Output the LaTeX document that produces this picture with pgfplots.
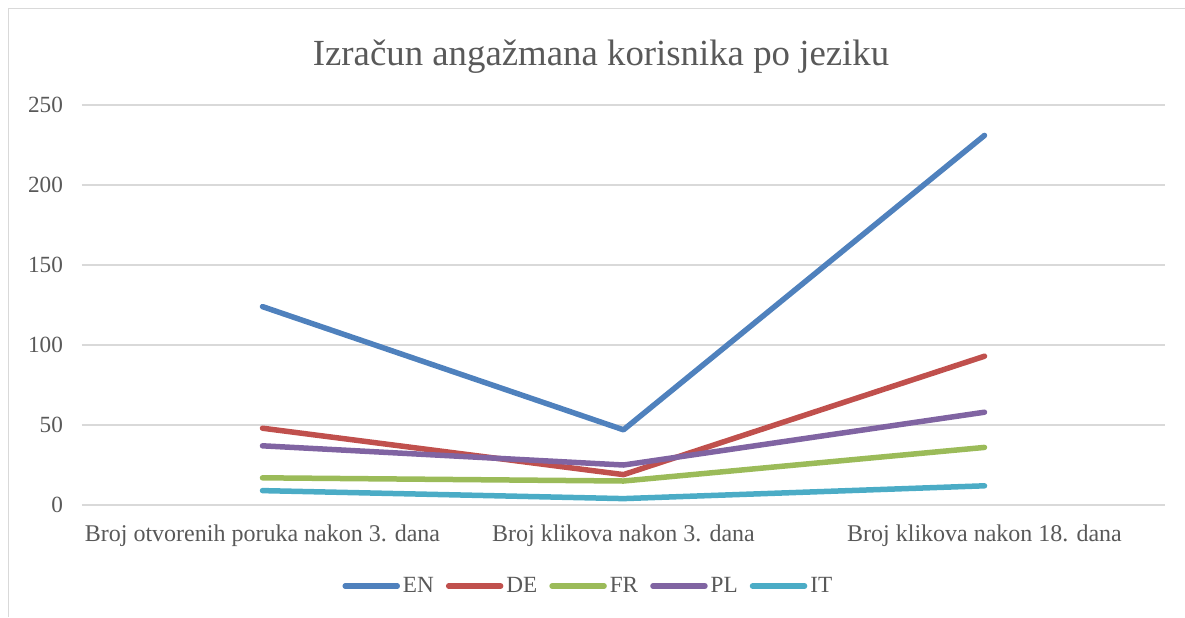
\documentclass[border=0pt]{standalone}
\usepackage{pgfplots}
\pgfplotsset{compat=1.18}
\usepackage{fontspec}
\setmainfont{Liberation Serif}
\definecolor{cEN}{HTML}{4F81BD}
\definecolor{cDE}{HTML}{C0504D}
\definecolor{cFR}{HTML}{9BBB59}
\definecolor{cPL}{HTML}{8064A2}
\definecolor{cIT}{HTML}{4BACC6}
\definecolor{txt}{HTML}{595959}
\definecolor{gridc}{HTML}{D9D9D9}
\begin{document}
\begin{tikzpicture}
\useasboundingbox (0,0) rectangle (592.5pt,-308.5pt);
\draw[gridc, line width=0.75pt] (4.25pt,-308.5pt) -- (4.25pt,-4.25pt) -- (592.5pt,-4.25pt);
\node[text=txt, font=\fontsize{18.4}{21}\selectfont, anchor=base] at (300.5pt,-32.5pt) {Izračun angažmana korisnika po jeziku};
\begin{axis}[
  at={(41pt,-252.5pt)}, anchor=south west,
  scale only axis, width=541.5pt, height=200pt,
  xmin=-0.5, xmax=2.5, ymin=0, ymax=250,
  xtick={0,1,2},
  xticklabels={Broj otvorenih poruka nakon 3. dana, Broj klikova nakon 3. dana, Broj klikova nakon 18. dana},
  ytick={0,50,100,150,200,250},
  ymajorgrids, grid style={gridc, line width=0.75pt},
  axis line style={draw=none},
  major tick length=0pt,
  tick label style={font=\fontsize{11.6}{13}\selectfont, text=txt},
  xticklabel style={font=\fontsize{12}{14}\selectfont, yshift=-6.5pt},
  /pgf/number format/assume math mode=true,
  yticklabel style={xshift=-6pt},
  legend style={at={(axis description cs:0.468,0)}, anchor=center, yshift=-40.5pt,
    draw=none, font=\fontsize{11.6}{13}\selectfont, text=txt,
    /tikz/every even column/.append style={column sep=4.5pt},
    nodes={inner sep=1.5pt}},
  legend columns=5,
  legend image code/.code={\draw[#1, line cap=round] (0pt,0pt) -- (26pt,0pt);},
  every axis plot/.append style={line width=2.75pt, line cap=round, line join=round},
]
\addplot[cEN] coordinates {(0,124) (1,47) (2,231)};
\addlegendentry{EN}
\addplot[cDE] coordinates {(0,48) (1,19) (2,93)};
\addlegendentry{DE}
\addplot[cFR] coordinates {(0,17) (1,15) (2,36)};
\addlegendentry{FR}
\addplot[cPL] coordinates {(0,37) (1,25) (2,58)};
\addlegendentry{PL}
\addplot[cIT] coordinates {(0,9) (1,4) (2,12)};
\addlegendentry{IT}
\end{axis}
\end{tikzpicture}
\end{document}
